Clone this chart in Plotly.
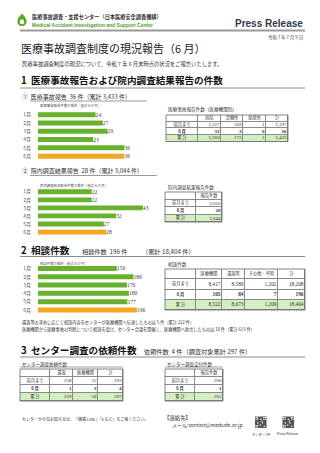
import plotly.graph_objects as go

W, H = 320, 453
def px(x): return x / W
def py(y): return 1 - y / H

# ---------------- data ----------------
months = ["1月", "2月", "3月", "4月", "5月", "6月"]
accident_reports = [24, 27, 29, 23, 36, 36]
internal_reports = [22, 22, 43, 32, 27, 28]
consultations = [156, 189, 176, 180, 177, 196]

row_labels = ["前月まで", "6 月", "累 計"]
t1_header = ["病院", "診療所", "助産所", "計"]
t1_values = [[3227, 169, 1, 3397], [33, 3, 0, 36], [3260, 172, 1, 3433]]
t2_header = ["報告件数"]
t2_values = [[3016], [28], [3044]]
t3_header = ["医療機関", "遺族等", "その他・不明", "計"]
t3_values = [[8417, 8589, 1202, 18208], [105, 84, 7, 196], [8522, 8673, 1209, 18404]]
t4_header = ["遺族", "医療機関", "計"]
t4_values = [[238, 55, 293], [1, 3, 4], [239, 58, 297]]
t5_header = ["報告件数"]
t5_values = [[200], [1], [201]]

# ---------------- styles ----------------
JP = "Noto Sans CJK JP"
SANS = "Liberation Sans"
SERIF = "Liberation Serif"
GREEN = "#67B12E"
ORANGE = "#F5A623"
TBL_GREEN = "#D3EEC0"
TXT = "#333333"

fig = go.Figure()
layout = {}

def add_bar_chart(idx, vals, x0, x1, y0, y1, xmax):
    colors = [GREEN] * (len(vals) - 1) + [ORANGE]
    fig.add_trace(go.Bar(
        x=vals, y=months, orientation="h",
        marker=dict(color=colors, line_width=0),
        text=[str(v) for v in vals], textposition="outside",
        constraintext="none", cliponaxis=False,
        textfont=dict(size=5.6, color="#444", family=SERIF),
        xaxis=f"x{idx}", yaxis=f"y{idx}", showlegend=False, hoverinfo="skip"))
    layout[f"xaxis{idx}"] = dict(domain=[px(x0), px(x1)], range=[0, xmax],
                                 visible=False, anchor=f"y{idx}", fixedrange=True)
    layout[f"yaxis{idx}"] = dict(domain=[py(y1), py(y0)], autorange="reversed",
                                 anchor=f"x{idx}", showgrid=False, showline=False,
                                 zeroline=False, ticks="", ticklabelstandoff=6,
                                 tickfont=dict(size=5, color="#555", family=JP),
                                 fixedrange=True)

def add_table(idx, header, values, widths, x0, y0, y1, fs, hfs, pad=1.5):
    ncol = len(header) + 1
    nrow = len(values) + 1
    edges = [0]
    for w in widths:
        edges.append(edges[-1] + w)
    z = [[0] * ncol for _ in range(nrow - 1)] + [[1] * ncol]
    fig.add_trace(go.Heatmap(
        z=z, x=edges, y=list(range(nrow + 1)),
        colorscale=[[0, "white"], [1, TBL_GREEN]], zmin=0, zmax=1,
        showscale=False, xgap=1, ygap=1, hoverinfo="skip",
        xaxis=f"x{idx}", yaxis=f"y{idx}"))
    cx = [(edges[k] + edges[k + 1]) / 2 for k in range(ncol)]
    fig.add_trace(go.Scatter(
        x=cx[1:], y=[0.5] * len(header), text=header, mode="text",
        textposition="middle center", textfont=dict(size=hfs, color=TXT, family=JP),
        xaxis=f"x{idx}", yaxis=f"y{idx}", hoverinfo="skip", showlegend=False,
        cliponaxis=False))
    labs = [f"<b>{l}</b>" if r == 1 else l for r, l in enumerate(row_labels)]
    fig.add_trace(go.Scatter(
        x=[cx[0]] * len(values), y=[r + 1.5 for r in range(len(values))],
        text=labs, mode="text", textposition="middle center",
        textfont=dict(size=hfs, color=TXT, family=JP),
        xaxis=f"x{idx}", yaxis=f"y{idx}", hoverinfo="skip", showlegend=False,
        cliponaxis=False))
    xs, ys, ts = [], [], []
    for r, row in enumerate(values):
        for c, v in enumerate(row):
            xs.append(edges[c + 2] - pad)
            ys.append(r + 1.5)
            s = f"{v:,}"
            ts.append(f"<b>{s}</b>" if r == 1 else s)
    fig.add_trace(go.Scatter(
        x=xs, y=ys, text=ts, mode="text", textposition="middle left",
        textfont=dict(size=fs, color=TXT, family=SERIF),
        xaxis=f"x{idx}", yaxis=f"y{idx}", hoverinfo="skip", showlegend=False,
        cliponaxis=False))
    total = edges[-1]
    layout[f"xaxis{idx}"] = dict(domain=[px(x0), px(x0 + total)], range=[0, total],
                                 visible=False, anchor=f"y{idx}", fixedrange=True)
    layout[f"yaxis{idx}"] = dict(domain=[py(y1), py(y0)], range=[nrow, 0],
                                 visible=False, anchor=f"x{idx}", fixedrange=True)
    shapes.append(dict(type="rect", xref=f"x{idx} domain", yref=f"y{idx} domain",
                       x0=0, x1=1, y0=0, y1=1, fillcolor="#8a8a8a",
                       line_width=0, layer="below"))
    shapes.append(dict(type="rect", xref=f"x{idx} domain", yref=f"y{idx} domain",
                       x0=0, x1=1, y0=0, y1=1, line=dict(color="#666", width=0.8),
                       layer="above"))

shapes = []
annotations = []

def text(x, y, s, size, color=TXT, family=JP, anchor="left", bold=False):
    if bold:
        s = f"<b>{s}</b>"
    annotations.append(dict(x=px(x), y=py(y), xref="paper", yref="paper", text=s,
                            showarrow=False, xanchor=anchor, yanchor="middle",
                            font=dict(size=size, color=color, family=family)))

def hline(x0, x1, y, color="#8c8c8c", width=1):
    shapes.append(dict(type="line", xref="paper", yref="paper", x0=px(x0), x1=px(x1),
                       y0=py(y), y1=py(y), line=dict(color=color, width=width)))

def rect(x0, y0, x1, y1, color):
    shapes.append(dict(type="rect", xref="paper", yref="paper", x0=px(x0), x1=px(x1),
                       y0=py(y1), y1=py(y0), fillcolor=color, line_width=0))

# ---------------- charts ----------------
add_bar_chart(1, accident_reports, 38, 158, 110.5, 160.3, 50)
add_bar_chart(2, internal_reports, 38, 158, 187.7, 236.1, 49.2)
add_bar_chart(3, consultations, 38, 158, 264.3, 314.1, 237.6)

add_table(4, t1_header, t1_values, [32, 23, 22, 23, 22], 166, 115, 141.5, 5.0, 4.2)
add_table(5, t2_header, t2_values, [31, 26], 165, 192, 222, 5.0, 4.2)
add_table(6, t3_header, t3_values, [31, 26, 23, 33, 27], 165, 269, 310, 5.3, 4.2)
add_table(7, t4_header, t4_values, [30, 23, 25, 25], 20, 369, 401, 5.0, 4.2)
add_table(8, t5_header, t5_values, [30, 28], 165, 369, 401, 5.0, 4.2)

# ---------------- header ----------------
def P(x, y): return f"{px(x):.5f},{py(y):.5f}"
drop = (f"M {P(22,13.3)} C {P(23.6,16)} {P(26.6,18)} {P(26.6,21.6)} "
        f"C {P(26.6,24.3)} {P(24.5,26.3)} {P(22,26.3)} "
        f"C {P(19.5,26.3)} {P(17.4,24.3)} {P(17.4,21.6)} "
        f"C {P(17.4,18)} {P(20.4,16)} {P(22,13.3)} Z")
shapes.append(dict(type="path", xref="paper", yref="paper", path=drop,
                   fillcolor="#5AA829", line_width=0))
shapes.append(dict(type="circle", xref="paper", yref="paper", x0=px(19.8), x1=px(24.2),
                   y0=py(24.2), y1=py(19.2), fillcolor="white", line_width=0))

text(30, 16.7, "医療事故調査・支援センター（日本医療安全調査機構）", 5.2, color="#333", bold=True)
text(30, 25.3, "Medical Accident Investigation and Support Center", 5.0, color="#4FA12A",
     family=SANS, bold=True)
text(305, 23.3, "Press Release", 10, color="#2f3a4a", family=SANS, anchor="right", bold=True)
hline(20, 305, 30.5, color="#9a9a9a", width=1.8)
text(305, 37.7, "令和 7 年 7 月 9 日", 4.4, anchor="right")
text(19, 48, "医療事故調査制度の現況報告（6 月）", 11, color="#222")
text(20, 64.3, "医療事故調査制度の現況について、令和 7 年 6 月末時点の状況をご報告いたします。", 5.3)

# ---------------- section 1 ----------------
text(19, 80, "1  医療事故報告および院内調査結果報告の件数", 9.6, color="#111", bold=True)
hline(20, 305, 88)
text(20, 97, "①  医療事故報告  36 件（累計 3,433 件）", 6.0)
hline(30, 147, 101, color="#555", width=0.6)
text(38, 106, "医療事故報告件数の推移（直近６か月）", 3.4, color="#555")
text(166, 109.3, "医療事故報告件数（医療機関別）", 4.6)

text(20, 171, "②  院内調査結果報告  28 件（累計 3,044 件）", 6.0)
hline(30, 157, 175.5, color="#555", width=0.6)
text(38, 185, "院内調査結果報告件数の推移（直近６か月）", 3.4, color="#555")
text(166, 187, "院内調査結果報告件数", 4.6)

# ---------------- section 2 ----------------
text(19, 250, "2  相談件数", 9.6, color="#111", bold=True)
text(80, 251, "相談件数  196 件", 6.2)
text(140, 251, "（累計 18,404 件）", 6.2)
hline(20, 305, 256.5)
text(38, 263, "相談件数の推移（直近６か月）", 3.4, color="#555")
text(166, 264, "相談件数", 4.6)

text(20, 322, "遺族等の求めに応じて相談内容をセンターが医療機関へ伝達したものは 5 件（累計 222 件）", 4.2)
text(20, 329, "医療機関から医療事故の判断について相談を受け、センター合議を開催し、医療機関へ助言したものは 10 件（累計 615 件）", 4.2)

# ---------------- section 3 ----------------
text(19, 350, "3  センター調査の依頼件数", 9.6, color="#111", bold=True)
text(142, 351, "依頼件数  4 件（調査対象累計 297 件）", 6.2)
hline(20, 305, 357)
text(20, 364, "センター調査依頼件数", 4.5)
hline(20, 123, 367, color="#666", width=0.6)
text(165, 364, "センター調査交付件数", 4.5)
hline(165, 223, 367, color="#666", width=0.6)

# ---------------- footer ----------------
text(20, 419, "センターからのお知らせは、「機構 LINE」「X など」をご覧ください。", 4.0)
text(162, 418, "【連絡先】", 5.4)
text(170, 424.5, "メール:contact@medsafe.or.jp", 5.0)

def qr(x0, y0, s):
    rect(x0, y0, x0 + s, y0 + s, "#555")
    c = s * 0.32
    for (qx, qy) in [(x0, y0), (x0 + s - c, y0), (x0, y0 + s - c)]:
        rect(qx + 0.6, qy + 0.6, qx + c - 0.6, qy + c - 0.6, "white")
        rect(qx + 1.3, qy + 1.3, qx + c - 1.3, qy + c - 1.3, "#333")
    for (a, b) in [(0.45, 0.2), (0.6, 0.5), (0.4, 0.7), (0.75, 0.8), (0.2, 0.5), (0.55, 0.35)]:
        rect(x0 + a * s, y0 + b * s, x0 + a * s + 1.2, y0 + b * s + 1.2, "white")

qr(255, 416.5, 11.5)
qr(282.5, 416.5, 11.5)
text(260.7, 434, "センター HP", 3.3, anchor="center")
text(288.2, 434, "Press Release", 3.3, family=SANS, anchor="center")

fig.update_layout(
    width=W, height=H, margin=dict(l=0, r=0, t=0, b=0),
    paper_bgcolor="white", plot_bgcolor="white",
    bargap=0.4, showlegend=False,
    font=dict(family=JP, color=TXT),
    shapes=shapes, annotations=annotations,
    **layout)

fig.write_html("out.html", config={"displayModeBar": False})
